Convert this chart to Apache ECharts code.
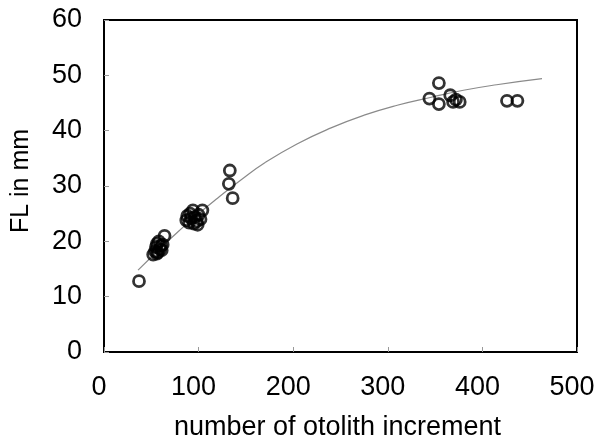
<!DOCTYPE html>
<html>
<head>
<meta charset="utf-8">
<script src="https://cdn.jsdelivr.net/npm/echarts@6/dist/echarts.min.js"></script>
<style>html,body{margin:0;padding:0;background:#fff}#c{width:606px;height:441px}</style>
</head>
<body>
<div id="c"></div>
<script>
// observed points: [number of otolith increment, FL in mm]
var observedPoints = [
  [37, 12.8],
  [52, 17.6], [54, 18.2], [55, 19.0], [56, 19.6], [57, 18.0], [58, 20.0],
  [59, 18.6], [60, 19.2], [61, 18.4], [62, 19.4], [64, 21.0], [56, 17.8],
  [87, 23.8], [88, 24.6], [90, 23.4], [92, 24.2], [94, 25.6], [95, 23.2],
  [96, 24.4], [98, 23.6], [100, 24.8], [102, 24.0], [104, 25.6], [99, 23.0], [91, 25.0],
  [133, 32.8], [132, 30.4], [136, 27.8],
  [344, 45.8], [354, 48.6], [354, 44.8], [366, 46.4], [369, 45.2], [376, 45.2], [372, 45.6],
  [426, 45.4], [437, 45.4]
];
// fitted growth curve
var curveX = [36, 60, 80, 100, 120, 144, 170, 204, 240, 275, 310, 345, 380, 415, 463];
var curveY = [14.8, 18.8, 22.0, 25.0, 27.8, 31.0, 34.2, 37.6, 40.5, 42.8, 44.6, 46.0, 47.3, 48.3, 49.4];
var xTicks = [0, 100, 200, 300, 400, 500];
var yTicks = [0, 10, 20, 30, 40, 50, 60];

var curve = curveX.map(function (x, i) { return [x, curveY[i]]; });
var chart = echarts.init(document.getElementById('c'), null, {renderer: 'canvas'});
var fontFam = '"Liberation Sans", Arial, sans-serif';
chart.setOption({
  animation: false,
  backgroundColor: '#fff',
  grid: {left: 104, right: 29, top: 20, bottom: 89, containLabel: false, outerBoundsMode: 'none',
    show: true, borderColor: '#000', borderWidth: 2, backgroundColor: 'transparent'},
  xAxis: {
    type: 'value', min: xTicks[0], max: xTicks[xTicks.length - 1], interval: 100,
    name: 'number of otolith increment', nameLocation: 'middle', nameGap: 62,
    nameTextStyle: {fontSize: 27, color: '#000', fontFamily: fontFam, padding: [0, 6, 0, 0]},
    axisLine: {show: true, lineStyle: {color: '#000', width: 2}},
    axisTick: {show: true, inside: true, length: 5, lineStyle: {color: '#999', width: 1}},
    axisLabel: {fontSize: 27, color: '#000', margin: 22, fontFamily: fontFam, padding: [0, 10, 0, 0]},
    splitLine: {show: false}
  },
  yAxis: {
    type: 'value', min: yTicks[0], max: yTicks[yTicks.length - 1], interval: 10,
    name: 'FL in mm', nameLocation: 'middle', nameGap: 70, nameRotate: 90,
    nameTextStyle: {fontSize: 25, color: '#000', fontFamily: fontFam, padding: [0, 0, 0, 10]},
    axisLine: {show: true, lineStyle: {color: '#000', width: 2}},
    axisTick: {show: true, inside: true, length: 5, lineStyle: {color: '#999', width: 1}},
    axisLabel: {fontSize: 27, color: '#000', margin: 22, fontFamily: fontFam},
    splitLine: {show: false}
  },
  series: [
    {
      type: 'line', data: curve, smooth: true, showSymbol: false, symbol: 'none',
      lineStyle: {color: '#8a8a8a', width: 1.2}, z: 1
    },
    {
      type: 'scatter', data: observedPoints, symbol: 'circle', symbolSize: 11,
      itemStyle: {color: 'rgba(255,255,255,0)', borderColor: '#000', borderWidth: 2.8}, z: 2
    }
  ]
});
</script>
</body>
</html>
